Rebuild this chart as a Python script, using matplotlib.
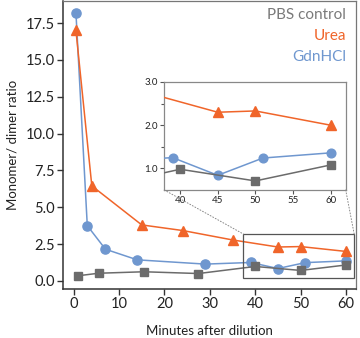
import matplotlib
matplotlib.use("Agg")
import matplotlib.pyplot as plt
from matplotlib.patches import Rectangle, ConnectionPatch

plt.rcParams['font.family'] = ['Lato', 'DejaVu Sans']

# Data
gdn_x = [0.5, 3, 7, 14, 29, 39, 45, 51, 60]
gdn_y = [18.2, 3.75, 2.15, 1.43, 1.14, 1.25, 0.84, 1.24, 1.36]
urea_x = [0.5, 4, 15, 24, 35, 45, 50, 60]
urea_y = [17.0, 6.45, 3.8, 3.42, 2.78, 2.3, 2.33, 2.0]
pbs_x = [1, 5.5, 15.5, 27.5, 40, 50, 60]
pbs_y = [0.35, 0.52, 0.62, 0.5, 0.98, 0.71, 1.08]

labels = ["PBS control", "Urea", "GdnHCl"]
c_gdn = "#6f97cf"
c_urea = "#f0652a"
c_pbs = "#6b6b6b"
legend_colors = ["#7a7a7a", c_urea, c_gdn]

main_xticks = [0, 10, 20, 30, 40, 50, 60]
main_yticks = [0.0, 2.5, 5.0, 7.5, 10.0, 12.5, 15.0, 17.5]
inset_xticks = [40, 45, 50, 55, 60]
inset_yticks = [1.0, 2.0, 3.0]

fig = plt.figure(figsize=(3.6, 3.38), dpi=100)
ax = fig.add_axes([63/360, 1-289/338, (356-63)/360, 288/338])

def draw(a, ms_scale=1.0):
    a.plot(gdn_x, gdn_y, color=c_gdn, marker='o', ms=6.6*ms_scale, lw=1.1, zorder=3)
    a.plot(urea_x, urea_y, color=c_urea, marker='^', ms=7.2*ms_scale, lw=1.1, zorder=4)
    a.plot(pbs_x, pbs_y, color=c_pbs, marker='s', ms=5.6*ms_scale, lw=1.1, zorder=5)

draw(ax)
ax.set_xlim(-2.35, 62.2)
ax.set_ylim(-0.55, 19.0)
ax.set_xticks(main_xticks)
ax.set_yticks(main_yticks)
ax.set_yticklabels([f"{v:.1f}" for v in main_yticks])
ax.tick_params(axis='both', direction='out', length=4, width=1, labelsize=10.5, color='#333333', labelcolor='#222222', pad=2)
for s in ['left', 'bottom']:
    ax.spines[s].set_color('#333333')
    ax.spines[s].set_linewidth(1.1)
for s in ['top', 'right']:
    ax.spines[s].set_color('#777777')
    ax.spines[s].set_linewidth(0.9)
ax.set_xlabel("Minutes after dilution", fontsize=9.5, color='#222222', labelpad=10)
ax.set_ylabel("Monomer/ dimer ratio", fontsize=9.5, color='#222222', labelpad=5)

# legend text
ys = [0.95, 0.88, 0.806]
for lab, col, yy in zip(labels, legend_colors, ys):
    ax.text(0.967, yy, lab, transform=ax.transAxes, ha='right', va='center', fontsize=11, color=col)

# zoom rectangle
rx0, ry0, rx1, ry1 = 37.4, 0.22, 61.8, 3.18
ax.add_patch(Rectangle((rx0, ry0), rx1-rx0, ry1-ry0, fill=False, ec='#555555', lw=0.9, zorder=6))

# inset
ins = fig.add_axes([164.3/360, 1-190/338, (345.7-164.3)/360, 108/338])
draw(ins, 0.95)
ins.set_xlim(37.9, 62.0)
ins.set_ylim(0.5, 3.0)
ins.set_xticks(inset_xticks)
ins.set_yticks(inset_yticks)
ins.set_yticklabels([f"{v:.1f}" for v in inset_yticks])
ins.set_yticks([1.5, 2.5], minor=True)
ins.tick_params(axis='both', which='major', direction='out', length=3, width=0.8, labelsize=7, color='#555555', labelcolor='#222222', pad=1.5)
ins.tick_params(axis='y', which='minor', direction='out', length=2.5, width=0.8, color='#555555')
for s in ins.spines.values():
    s.set_color('#888888')
    s.set_linewidth(0.9)

for (xa, xd) in [(0, rx0), (1, rx1)]:
    con = ConnectionPatch(xyA=(xa, 0), coordsA=ins.transAxes, xyB=(xd, ry1), coordsB=ax.transData,
                          ls=(0, (1, 2)), color='#888888', lw=0.7)
    fig.add_artist(con)

fig.savefig("out.png", dpi=100)
